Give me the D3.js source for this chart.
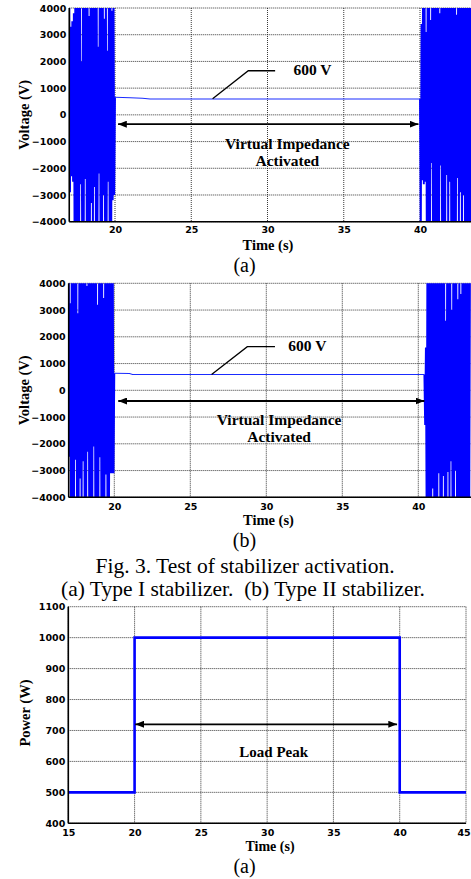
<html lang="en">
<head>
<meta charset="utf-8">
<title>Fig. 3 stabilizer activation</title>
<script src="https://d3js.org/d3.v7.min.js"></script>
<style>
body { margin: 0; background: #fff; }
.serif { font-family: "Liberation Serif", "Times New Roman", serif; }
</style>
</head>
<body>
<script>
// ---- data ----
var timeTicksV = [20, 25, 30, 35, 40];
var voltTicks = [-4000, -3000, -2000, -1000, 0, 1000, 2000, 3000, 4000];
var timeTicksP = [15, 20, 25, 30, 35, 40, 45];
var powerTicks = [400, 500, 600, 700, 800, 900, 1000, 1100];

var burstStep = 0.05; // s between samples of the oscillating parts

// (a) Type I : oscillation before 20 s and after 40 s
var burstA1Start = 17.0;
var burstA1 = [4800, -2900, 3300, -2300, 3500, -2500, 3800, -5200, 5600, -4800,
  5200, -5600, 4700, -4900, 5800, -2600, 2000, -5400, 5100, -5000,
  5500, -2400, 4900, -5300, 5200, -4700, 3700, -5500, 5000, -3300,
  5600, -5100, 4800, -2700, 5300, -5600, 5100, -4900, 2550, -2200,
  5400, -5200, 4900, -5500, 5200, -3000, 3600, -5000, 5500, -4800,
  2400, -2500, 5000, -5300, 4800, -5100, 3900, -3200, 5200, -3000, 660];
var flatA = [[20.0, 660], [21.0, 640], [21.8, 620], [22.3, 595], [40.0, 595]];
var burstA2Start = 40.0;
var burstA2 = [595, -4800, 3400, -2450, 5200, -2600, 4900, -2500, 3100, -5300,
  5500, -5000, 4800, -5400, 3550, -1800, 5100, -5200, 5600, -4900,
  5000, -5500, 5300, -4800, 4900, -5100, 3800, -1900, 5200, -5300,
  5400, -5000, 4700, -5600, 5100, -2250, 5500, -4900, 5000, -2500,
  5300, -5200, 4800, -5400, 5600, -5000, 5100, -5300, 3750, -2360,
  5200, -4800, 5400, -2900, 5000, -5100, 4900, -3000, 5300, -5200,
  5100, -4900, 5500, -5400, 4800, -5000, 5200, -5300, 5000];

// (b) Type II
var burstB1Start = 17.0;
var burstB1 = [4700, -2480, 3250, -5200, 5500, -4900, 5100, -5300, 4800, -2600,
  5600, -5000, 2880, -5400, 5200, -3300, 4900, -5100, 5400, -2650,
  5000, -5500, 5300, -4800, 3900, -2300, 5100, -5200, 4800, -5000,
  5500, -5300, 5000, -2100, 5300, -4900, 5200, -5400, 3200, -5100,
  4900, -2500, 5400, -5000, 5100, -5300, 3450, -4800, 5200, -3150,
  5000, -5100, 4800, -5200, 5300, -3100, 5100, -3100, 4900, -3100, 640];
var flatB = [[20.0, 640], [21.0, 630], [21.2, 590], [40.4, 590]];
var burstB2Start = 40.4;
var burstB2 = [590, -1300, 1600, -5200, 5400, -4900, 5000, -5300, 5500, -5000,
  4800, -3670, 5200, -5400, 5100, -4800, 5300, -5100, 4900, -3100,
  5600, -5200, 5000, -4900, 5200, -3200, 4800, -5300, 2600, -5000,
  5400, -3050, 5100, -5200, 4900, -2650, 3000, -5100, 5300, -4800,
  5000, -3000, 5200, -5400, 3400, -5000, 5100, -5300, 3600, -4900,
  5200, -5100, 4800, -5400, 5000, -5200, 5300, -4900, 5100, -5000, 4800];

// (c) load power step
var powerSeries = [[15, 500], [20, 500], [20, 1000], [40, 1000], [40, 500], [45, 500]];

// ---- drawing ----
var w = 471, h = 879;
var svg = d3.select("body").append("svg").attr("width", w).attr("height", h);

var defs = svg.append("defs");
defs.append("marker").attr("id", "ah").attr("viewBox", "0 0 10 8")
  .attr("refX", 10).attr("refY", 4).attr("markerWidth", 9).attr("markerHeight", 7)
  .attr("markerUnits", "userSpaceOnUse").attr("orient", "auto-start-reverse")
  .append("path").attr("d", "M0,0L10,4L0,8Z").attr("fill", "#000");

function toPoints(start, vals) {
  return vals.map(function(v, i) { return [start + i * burstStep, v]; });
}

function grid(g, x, y, xt, yt, left, right, top, bottom) {
  g.selectAll(".gx").data(xt).enter().append("line")
    .attr("x1", function(d) { return x(d); }).attr("x2", function(d) { return x(d); })
    .attr("y1", top).attr("y2", bottom)
    .attr("stroke", "#222").attr("stroke-width", 0.9).attr("stroke-dasharray", "1,1");
  g.selectAll(".gy").data(yt).enter().append("line")
    .attr("x1", left).attr("x2", right)
    .attr("y1", function(d) { return y(d); }).attr("y2", function(d) { return y(d); })
    .attr("stroke", "#222").attr("stroke-width", 0.9).attr("stroke-dasharray", "1,1");
}

function tickLabels(g, x, y, xt, yt, left, bottom, size, padX) {
  var ya = g.append("g").attr("transform", "translate(" + left + ",0)")
    .call(d3.axisLeft(y).tickValues(yt).tickSize(0).tickPadding(3).tickFormat(d3.format("d")));
  var xa = g.append("g").attr("transform", "translate(0," + bottom + ")")
    .call(d3.axisBottom(x).tickValues(xt).tickSize(0).tickPadding(padX).tickFormat(d3.format("d")));
  [ya, xa].forEach(function(a) {
    a.select(".domain").remove();
    a.attr("font-family", "'DejaVu Sans', sans-serif").attr("font-size", size)
      .attr("font-weight", "bold");
    a.selectAll("text").attr("fill", "#000");
  });
  return xa;
}

function axesLines(g, left, right, top, bottom) {
  g.append("line").attr("x1", left).attr("x2", left).attr("y1", top).attr("y2", bottom)
    .attr("stroke", "#000").attr("stroke-width", 1.6);
  g.append("line").attr("x1", left).attr("x2", right).attr("y1", bottom).attr("y2", bottom)
    .attr("stroke", "#000").attr("stroke-width", 1.6);
}

function boldText(g, txt, px, py, size, anchor) {
  return g.append("text").attr("class", "serif").attr("x", px).attr("y", py)
    .attr("font-size", size).attr("font-weight", "bold")
    .attr("text-anchor", anchor || "start").text(txt);
}

function voltagePanel(cfg) {
  var x = d3.scaleLinear().domain([20, 40]).range(cfg.xr);
  var y = d3.scaleLinear().domain([-4000, 4000]).range(cfg.yr);
  var left = x(17), right = w, top = y(4000), bottom = y(-4000);
  var g = svg.append("g");

  grid(g, x, y, timeTicksV, voltTicks, left, right, top, bottom);

  g.append("clipPath").attr("id", cfg.id).append("rect")
    .attr("x", left).attr("y", top).attr("width", right - left).attr("height", bottom - top);
  var line = d3.line().x(function(d) { return x(d[0]); }).y(function(d) { return y(d[1]); });
  var plot = g.append("g").attr("clip-path", "url(#" + cfg.id + ")");
  plot.append("path").datum(toPoints(cfg.b1Start, cfg.b1)).attr("d", line)
    .attr("fill", "none").attr("stroke", "#0000ff").attr("stroke-width", 1.9);
  plot.append("path").datum(toPoints(cfg.b2Start, cfg.b2)).attr("d", line)
    .attr("fill", "none").attr("stroke", "#0000ff").attr("stroke-width", 1.9);
  plot.append("path").datum(cfg.flat).attr("d", line)
    .attr("fill", "none").attr("stroke", "#1a2cff").attr("stroke-width", 1.1);

  axesLines(g, left, right, top, bottom);
  tickLabels(g, x, y, timeTicksV, voltTicks, left, bottom, 9.5, cfg.padX);

  // annotations
  g.append("path").datum(cfg.leader).attr("d", line)
    .attr("fill", "none").attr("stroke", "#000").attr("stroke-width", 1.3);
  boldText(g, "600 V", x(cfg.labelT), y(cfg.labelV), 15.5);
  g.append("line").attr("x1", x(cfg.arrow[0])).attr("x2", x(cfg.arrow[1]))
    .attr("y1", y(cfg.arrow[2])).attr("y2", y(cfg.arrow[2]))
    .attr("stroke", "#000").attr("stroke-width", 1.8)
    .attr("marker-start", "url(#ah)").attr("marker-end", "url(#ah)");
  boldText(g, "Virtual Impedance", x(cfg.textT), y(cfg.textV1), 15.5, "middle");
  boldText(g, "Activated", x(cfg.textT), y(cfg.textV2), 15.5, "middle");

  boldText(g, "Time (s)", cfg.titleX, cfg.titleY, 14.5, "middle");
  boldText(g, "Voltage (V)", 0, 0, 14.5, "middle")
    .attr("transform", "translate(29," + ((top + bottom) / 2) + ") rotate(-90)");
  g.append("text").attr("class", "serif").attr("x", 244.5).attr("y", cfg.subY)
    .attr("font-size", 20).attr("text-anchor", "middle").text(cfg.sub);
}

voltagePanel({
  id: "clipA", xr: [115, 420], yr: [221.7, 8],
  b1Start: burstA1Start, b1: burstA1, b2Start: burstA2Start, b2: burstA2, flat: flatA,
  leader: [[30.5, 1650], [28.74, 1650], [26.4, 600]], labelT: 31.7, labelV: 1500,
  arrow: [20.2, 39.9, -350], textT: 31.3, textV1: -1275, textV2: -1915,
  padX: 5, titleX: 268, titleY: 250, sub: "(a)", subY: 272
});

voltagePanel({
  id: "clipB", xr: [114.3, 418.3], yr: [497.3, 283.3],
  b1Start: burstB1Start, b1: burstB1, b2Start: burstB2Start, b2: burstB2, flat: flatB,
  leader: [[30.57, 1630], [28.75, 1630], [26.4, 590]], labelT: 31.45, labelV: 1480,
  arrow: [20.26, 40.4, -400], textT: 30.84, textV1: -1300, textV2: -1930,
  padX: 5.5, titleX: 268.5, titleY: 525, sub: "(b)", subY: 547
});

// captions
svg.append("text").attr("class", "serif").attr("x", 245).attr("y", 573)
  .attr("font-size", 21.5).attr("text-anchor", "middle")
  .text("Fig. 3. Test of stabilizer activation.");
svg.append("text").attr("class", "serif").attr("x", 243).attr("y", 596)
  .attr("font-size", 21.5).attr("text-anchor", "middle").style("white-space", "pre")
  .text("(a) Type I stabilizer.  (b) Type II stabilizer.");

// power panel
(function() {
  var x = d3.scaleLinear().domain([15, 45]).range([68.3, 466]);
  var y = d3.scaleLinear().domain([400, 1100]).range([823.3, 606.7]);
  var left = x(15), right = x(45), top = y(1100), bottom = y(400);
  var g = svg.append("g");
  grid(g, x, y, timeTicksP, powerTicks, left, right, top, bottom);
  var line = d3.line().x(function(d) { return x(d[0]); }).y(function(d) { return y(d[1]); });
  g.append("path").datum(powerSeries).attr("d", line)
    .attr("fill", "none").attr("stroke", "#0000ff").attr("stroke-width", 2.6);
  axesLines(g, left, right, top, bottom);
  var xa = tickLabels(g, x, y, timeTicksP, powerTicks, left, bottom, 9.5, 5.5);
  xa.selectAll("text").filter(function(d) { return d === 45; }).attr("dx", -2.5);

  g.append("line").attr("x1", x(20.05)).attr("x2", x(39.8))
    .attr("y1", y(720)).attr("y2", y(720))
    .attr("stroke", "#000").attr("stroke-width", 1.8)
    .attr("marker-start", "url(#ah)").attr("marker-end", "url(#ah)");
  boldText(g, "Load Peak", x(27.9), y(613), 15);

  boldText(g, "Time (s)", 270, 850.5, 14, "middle");
  boldText(g, "Power (W)", 0, 0, 14.5, "middle")
    .attr("transform", "translate(30,713) rotate(-90)");
  g.append("text").attr("class", "serif").attr("x", 244.5).attr("y", 873)
    .attr("font-size", 20).attr("text-anchor", "middle").text("(a)");
})();
</script>
</body>
</html>
